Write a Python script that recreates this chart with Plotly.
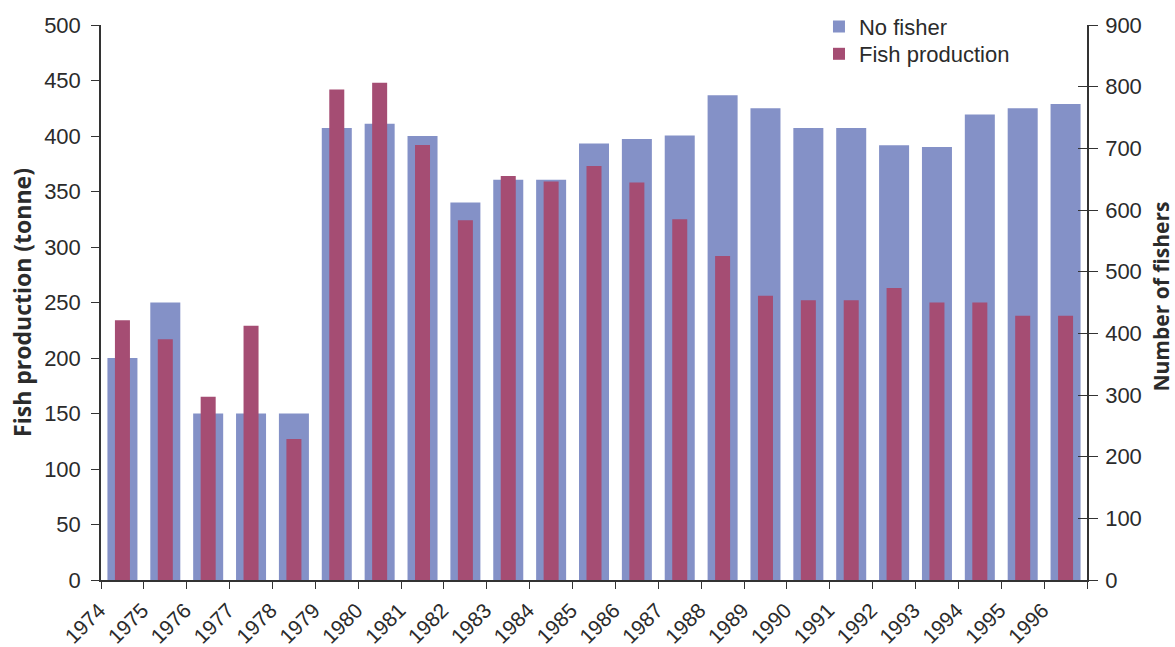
import plotly.graph_objects as go

years = [str(y) for y in range(1974, 1997)]
no_fisher = [360, 450, 270, 270, 270, 733, 740, 720, 612, 649, 649, 708, 715, 721,
             786, 765, 733, 733, 705, 702, 755, 765, 772]
fish_production = [234, 217, 165, 229, 127, 442, 448, 392, 324, 364, 359, 373, 358, 325,
                   292, 256, 252, 252, 263, 250, 250, 238, 238]

left_ticks = [0, 50, 100, 150, 200, 250, 300, 350, 400, 450, 500]
right_ticks = [0, 100, 200, 300, 400, 500, 600, 700, 800, 900]

BLUE = "#8491C7"
RED = "#A54D73"
TXT = "#2b2b2b"
LINE = "#333333"
FONT = "Liberation Sans, Arial, sans-serif"
TFONT = "Open Sans, sans-serif"

fig = go.Figure()
fig.add_trace(go.Bar(x=years, y=no_fisher, name="No fisher", marker_color=BLUE,
                     marker_line_width=0, width=0.7, yaxis="y", legend="legend"))
fig.add_trace(go.Bar(x=years, y=fish_production, name="Fish production", marker_color=RED,
                     marker_line_width=0, width=0.35, yaxis="y2", legend="legend2"))
# helper trace for crossing ticks on right axis
fig.add_trace(go.Scatter(x=[], y=[], yaxis="y3", showlegend=False, hoverinfo="skip"))

leg_common = dict(xref="container", yref="container", xanchor="left", yanchor="top",
                  font=dict(family=FONT, size=22, color=TXT), bgcolor="rgba(0,0,0,0)")

fig.update_layout(
    width=1175, height=647,
    margin=dict(l=101, r=88, t=25, b=67, autoexpand=False),
    paper_bgcolor="white", plot_bgcolor="white",
    barmode="overlay",
    font=dict(family=FONT, size=22, color=TXT),
    showlegend=True,
    legend=dict(x=0.697, y=0.991, **leg_common),
    legend2=dict(x=0.697, y=0.949, **leg_common),
    xaxis=dict(type="category", range=[-0.5, 22.5], showgrid=False, automargin=False,
               showline=True, linecolor=LINE, linewidth=1.5,
               ticks="outside", ticklen=7, tickcolor=LINE, tickson="boundaries",
               tickangle=-45, ticklabelshift=-23, ticklabelstandoff=8,
               tickfont=dict(family=FONT, size=21, color=TXT)),
    yaxis=dict(range=[0, 900], side="right", tickvals=right_ticks, showgrid=False,
               automargin=False,
               zeroline=False, showline=True, linecolor=LINE, linewidth=1.5,
               ticks="outside", ticklen=9, tickcolor=LINE, ticklabelstandoff=3,
               tickfont=dict(family=FONT, size=22, color=TXT)),
    yaxis2=dict(range=[0, 500], side="left", overlaying="y", tickvals=left_ticks,
                automargin=True,
                showgrid=False, zeroline=False, showline=True, linecolor=LINE,
                linewidth=1.5, ticks="outside", ticklen=8, tickcolor=LINE,
                ticklabelstandoff=6,
                tickfont=dict(family=FONT, size=22, color=TXT),
                title=dict(text="Fish production (tonne)", standoff=6,
                           font=dict(family=TFONT, size=23, color=TXT, weight="bold"))),
    yaxis3=dict(range=[0, 900], side="right", overlaying="y", tickvals=right_ticks,
                automargin=False,
                showgrid=False, zeroline=False, showline=False, showticklabels=False,
                ticks="inside", ticklen=9, tickcolor=LINE),
    annotations=[dict(text="<b>Number of fishers</b>", xref="paper", yref="paper",
                      x=1, y=0.5, xanchor="center", yanchor="middle",
                      xshift=73, yshift=6, textangle=-90, showarrow=False,
                      font=dict(family=TFONT, size=21, color=TXT))],
)

fig.write_html("out.html", config={"displayModeBar": False},
               post_script="document.body.style.margin='0';document.body.style.padding='0';")
